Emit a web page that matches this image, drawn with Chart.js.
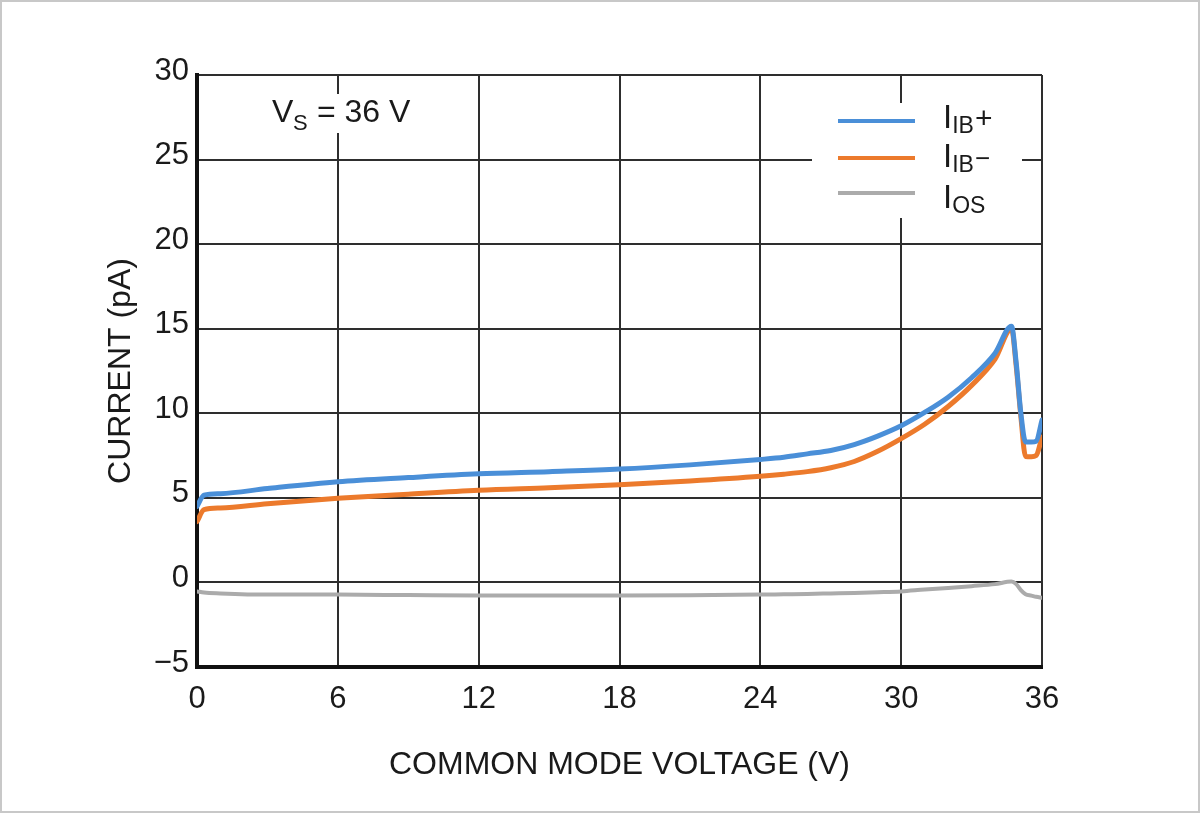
<!DOCTYPE html>
<html>
<head>
<meta charset="utf-8">
<script src="https://cdn.jsdelivr.net/npm/chart.js@4/dist/chart.umd.min.js"></script>
<style>
  html, body { margin: 0; padding: 0; background: #fff; }
  #wrap { width: 1200px; height: 813px; }
</style>
</head>
<body>
<div id="wrap"><canvas id="chart" width="1200" height="813"></canvas></div>
<script>
// ── Data ──
const voltage = [0, 0.3, 1, 3, 6, 9, 12, 15, 18, 21, 24, 25, 26, 27, 28, 29, 30, 31, 32, 33, 34, 34.7, 34.9, 35.1, 35.3, 35.55, 35.75, 36];
const ibPlus  = [4.5, 5.16, 5.25, 5.55, 5.95, 6.2, 6.42, 6.55, 6.7, 6.95, 7.27, 7.4, 7.6, 7.8, 8.15, 8.65, 9.26, 10.05, 10.95, 12.1, 13.55, 15.15, 13.0, 10.0, 8.3, 8.3, 8.35, 9.6];
const ibMinus = [3.6, 4.3, 4.4, 4.65, 4.97, 5.22, 5.45, 5.6, 5.77, 6.0, 6.28, 6.4, 6.55, 6.78, 7.15, 7.75, 8.5, 9.35, 10.4, 11.65, 13.2, 15.0, 12.8, 9.8, 7.45, 7.43, 7.5, 8.6];
const iOs     = [-0.53, -0.6, -0.65, -0.72, -0.72, -0.75, -0.78, -0.78, -0.78, -0.76, -0.72, -0.7, -0.68, -0.65, -0.62, -0.58, -0.53, -0.42, -0.33, -0.22, -0.1, 0.05, -0.1, -0.45, -0.7, -0.78, -0.85, -0.9];

const xTicks = [0, 6, 12, 18, 24, 30, 36];
const yTicks = [-5, 0, 5, 10, 15, 20, 25, 30];

const FONT = "'Liberation Sans', Arial, sans-serif";
const INK = '#1a1a1a';
const BLUE = '#4a8fd8';
const ORANGE = '#ec7a2c';
const GREY = '#ababab';

const toPoints = ys => voltage.map((v, i) => ({ x: v, y: ys[i] }));

// ── Background, frame, V_S note and legend (with subscripts) ──
const decorations = {
    id: 'decorations',
    beforeDraw(chart) {
        const ctx = chart.ctx;
        ctx.save();
        ctx.fillStyle = '#fff';
        ctx.fillRect(0, 0, chart.width, chart.height);
        ctx.strokeStyle = '#c8c8c8';
        ctx.lineWidth = 2;
        ctx.strokeRect(1, 1, chart.width - 2, chart.height - 2);
        ctx.restore();
    },
    afterDraw(chart) {
        const ctx = chart.ctx;
        ctx.save();
        ctx.fillStyle = '#fff';
        ctx.fillRect(262, 94, 160, 39);    // behind V_S note
        ctx.fillRect(812, 103, 210, 115);  // behind legend

        ctx.fillStyle = INK;
        ctx.textBaseline = 'alphabetic';
        ctx.textAlign = 'left';

        // V_S = 36 V
        ctx.font = '32px ' + FONT;
        ctx.fillText('V', 272, 122);
        ctx.font = '22px ' + FONT;
        ctx.fillText('S', 293, 130);
        ctx.font = '32px ' + FONT;
        ctx.fillText(' = 36 V', 308, 122);

        // legend
        const rows = [
            { color: BLUE,   y: 121, sub: 'IB', tail: '+', base: 128 },
            { color: ORANGE, y: 158, sub: 'IB', tail: '\u2212', base: 167 },
            { color: GREY,   y: 193, sub: 'OS', tail: '',  base: 208 }
        ];
        rows.forEach(r => {
            ctx.strokeStyle = r.color;
            ctx.lineWidth = 4;
            ctx.beginPath();
            ctx.moveTo(838, r.y);
            ctx.lineTo(915, r.y);
            ctx.stroke();

            ctx.font = '33px ' + FONT;
            ctx.fillText('I', 943, r.base);
            let x = 943 + ctx.measureText('I').width;
            ctx.font = '23px ' + FONT;
            ctx.fillText(r.sub, x, r.base + 5);
            x += ctx.measureText(r.sub).width;
            if (r.tail) {
                ctx.font = (r.tail === '+' ? '30px ' : '26px ') + FONT;
                ctx.fillText(r.tail, x + 1, r.base);
            }
        });
        ctx.restore();
    }
};

new Chart(document.getElementById('chart'), {
    type: 'line',
    data: {
        datasets: [
            { label: 'IIB+', data: toPoints(ibPlus),  borderColor: BLUE,   borderWidth: 5 },
            { label: 'IIB-', data: toPoints(ibMinus), borderColor: ORANGE, borderWidth: 5 },
            { label: 'IOS',  data: toPoints(iOs),     borderColor: GREY,   borderWidth: 4 }
        ]
    },
    options: {
        responsive: false,
        animation: false,
        devicePixelRatio: 1,
        cubicInterpolationMode: 'monotone',
        elements: { point: { radius: 0 }, line: { borderCapStyle: 'round', borderJoinStyle: 'round' } },
        layout: { padding: { left: 0, top: 75, right: 158, bottom: 0 } },
        plugins: { legend: { display: false }, tooltip: { enabled: false } },
        scales: {
            x: {
                type: 'linear',
                min: 0, max: 36,
                afterFit: s => { s.height = 146; },
                afterBuildTicks: s => { s.ticks = xTicks.map(v => ({ value: v })); },
                grid: { color: '#2e2e2e', lineWidth: 2, drawTicks: false },
                border: { color: '#111', width: 4 },
                ticks: { color: INK, font: { family: FONT, size: 31 }, padding: 14, maxRotation: 0 },
                title: { display: true, text: 'COMMON MODE VOLTAGE (V)', color: INK,
                         font: { family: FONT, size: 32 }, padding: { top: 0, bottom: 29 } }
            },
            y: {
                min: -5, max: 30,
                afterFit: s => { s.width = 197; },
                afterBuildTicks: s => { s.ticks = yTicks.map(v => ({ value: v })); },
                grid: { color: '#2e2e2e', lineWidth: 2, drawTicks: false },
                border: { color: '#111', width: 4 },
                ticks: { color: INK, font: { family: FONT, size: 31 }, padding: 8, labelOffset: -4,
                         callback: v => v < 0 ? '\u2212' + Math.abs(v) : String(v) },
                title: { display: true, text: 'CURRENT (pA)', color: INK,
                         font: { family: FONT, size: 32 }, padding: { top: 102, bottom: 0 } }
            }
        }
    },
    plugins: [decorations]
});
</script>
</body>
</html>
